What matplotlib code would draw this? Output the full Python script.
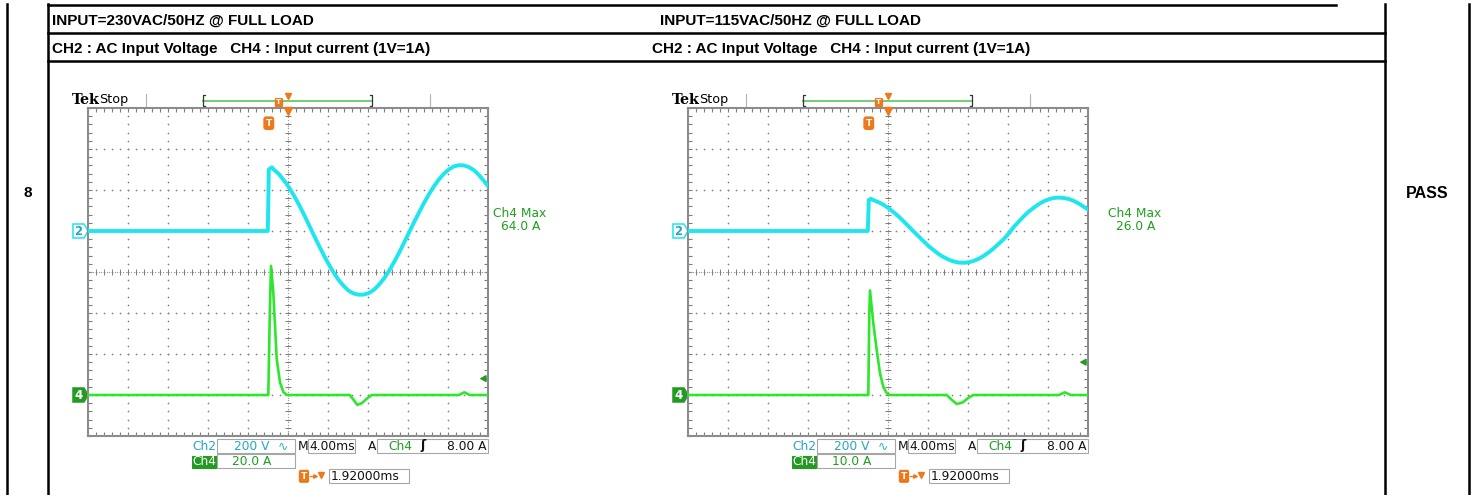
import numpy as np
import matplotlib.pyplot as plt
from matplotlib.patches import Rectangle, Polygon

W, H = 1474, 495

# %%
# Values read off the two scope captures
# time in ms relative to the trigger point, CH2 in volts, CH4 in amps
t_v230 = [-18.1, -0.1, 0.0, 0.3, 0.5, 1.0, 1.5, 2.0, 2.5, 3.0, 3.5, 4.0, 4.5, 5.0,
          5.5, 6.0, 6.5, 7.0, 7.5, 8.0, 8.5, 9.0, 9.5, 10.0, 10.5, 11.0, 11.5,
          12.0, 12.5, 13.0, 13.5, 14.0, 14.5, 15.0, 15.5, 16.0, 16.5, 17.0, 17.5,
          18.0, 18.5, 19.0, 19.5, 20.0, 20.5, 21.0, 21.5, 21.9]
v_230 = [0, 0, 300, 311, 300, 278, 248, 214, 174, 130, 82, 31, -20, -70,
         -118, -163, -204, -240, -269, -292, -305, -311, -310, -303, -287, -263, -233,
         -196, -154, -109, -60, -10, 40, 88, 135, 178, 217, 251, 279,
         300, 315, 321, 320, 312, 297, 274, 245, 220]

t_v115 = [-18.1, -0.1, 0.0, 0.2, 0.5, 1.0, 1.5, 2.0, 2.5, 3.0, 3.5, 4.0, 4.5, 5.0,
          5.5, 6.0, 6.5, 7.0, 7.5, 8.0, 8.5, 9.0, 9.5, 10.0, 10.5, 11.0, 11.5,
          12.0, 12.5, 13.0, 13.5, 14.0, 14.5, 15.0, 15.5, 16.0, 16.5, 17.0, 17.5,
          18.0, 18.5, 19.0, 19.5, 20.0, 20.5, 21.0, 21.5, 21.9]
v_115 = [0, 0, 152, 157, 150, 140, 127, 110, 91, 70, 46, 22, -3, -27,
         -51, -74, -94, -113, -128, -140, -149, -154, -155, -152, -146, -135, -121,
         -104, -84, -62, -39, -12, 20, 46, 72, 95, 114, 131, 145,
         155, 161, 163, 161, 156, 147, 134, 118, 105]

t_i230 = [-18.1, -0.05, 0.1, 0.22, 0.45, 0.62, 0.79, 1.12, 1.45, 1.8,
          8.1, 8.5, 8.85, 9.3, 9.8, 10.3, 19.0, 19.55, 20.1, 21.9]
i_230 = [0, 0, 40, 63, 50, 34, 17.6, 6.2, 1.5, 0,
         0, -2.5, -4.8, -4.0, -1.8, 0, 0, 1.3, 0, 0]

t_i115 = [-18.1, -0.05, 0.05, 0.12, 0.45, 0.79, 1.12, 1.45, 1.8, 2.1,
          7.8, 8.3, 8.8, 9.4, 9.9, 10.45, 19.0, 19.6, 20.2, 21.9]
i_115 = [0, 0, 20, 25.5, 17.5, 11, 5.3, 2, 0.4, 0,
         0, -1.2, -2.2, -1.8, -0.8, 0, 0, 0.65, 0, 0]

# scope settings shown in the readouts
input_titles = ['INPUT=230VAC/50HZ @ FULL LOAD', 'INPUT=115VAC/50HZ @ FULL LOAD']
channel_note = 'CH2 : AC Input Voltage   CH4 : Input current (1V=1A)'
ch2_volts_div = [200, 200]
ch4_amps_div = [20.0, 10.0]
ms_per_div = [4.0, 4.0]
trig_delay_ms = [1.92, 1.92]
trig_level_a = [8.0, 8.0]
ch4_max_a = [64.0, 26.0]
ch2_pos_div = 1.0
ch4_pos_div = -3.0
row_label = '8'
result = 'PASS'

# %%
CYAN = '#1ee6f0'
CYAN_TXT = '#27a6c4'
GREEN = '#2ee62e'
GREEN_TXT = '#1f9e1f'
GREEN_DARK = '#239b23'
ORANGE = '#f07818'
GRID = '#7d7d7d'

head_font = ['Liberation Sans Narrow', 'Liberation Sans', 'DejaVu Sans']

fig = plt.figure(figsize=(W / 100, H / 100), dpi=100)
bg = fig.add_axes([0, 0, 1, 1])
bg.set_xlim(0, W)
bg.set_ylim(H, 0)
bg.axis('off')

# table frame
lw_t = 1.8
bg.plot([7, 7], [4, H], color='black', lw=lw_t)
bg.plot([48, 48], [4, H], color='black', lw=lw_t)
bg.plot([1385.5, 1385.5], [4, H], color='black', lw=lw_t)
bg.plot([1469, 1469], [4, H], color='black', lw=lw_t)
bg.plot([48, 1336], [5, 5], color='black', lw=lw_t)
bg.plot([48, 1385.5], [33, 33], color='black', lw=lw_t)
bg.plot([48, 1385.5], [61, 61], color='black', lw=lw_t)

# fit the header font so the first title spans the same width as the scan
renderer = fig.canvas.get_renderer()
probe = bg.text(0, 0, input_titles[0], family=head_font, fontweight='bold', fontsize=12)
head_size = 12 * 261 / probe.get_window_extent(renderer).width
probe.remove()

head_kw = dict(family=head_font, fontweight='bold', fontsize=head_size,
               va='baseline', ha='left')
bg.text(52, 25, input_titles[0], **head_kw)
bg.text(660, 25, input_titles[1], **head_kw)
bg.text(52, 53, channel_note, **head_kw)
bg.text(652, 53, channel_note, **head_kw)
bg.text(28, 193, row_label, family=head_font, fontweight='bold',
        fontsize=head_size, ha='center', va='center')
bg.text(1427.5, 193, result, family=head_font, fontweight='bold',
        fontsize=head_size * 1.05, ha='center', va='center')

ro_kw = dict(family='DejaVu Sans', fontsize=8.8, va='center')


def box(x0, x1, y0, y1, fc='white', ec='#a6a6a6'):
    bg.add_patch(Rectangle((x0, y0), x1 - x0, y1 - y0, fc=fc, ec=ec, lw=0.8, zorder=2))


traces = [(t_v230, v_230, t_i230, i_230), (t_v115, v_115, t_i115, i_115)]
max_x = [520, 1135]

for k in range(2):
    ox = 600 * k
    tv, vv, ti, ii = traces[k]
    x_of = lambda t: (np.asarray(t) - trig_delay_ms[k]) / ms_per_div[k]

    ax = fig.add_axes([(88 + ox) / W, (H - 436) / H, 400 / W, 328 / H])
    ax.set_xlim(-5, 5)
    ax.set_ylim(-4, 4)
    ax.set_facecolor('white')
    ax.set_xticks([])
    ax.set_yticks([])
    ax.set_xticks(np.arange(-5, 5.001, 0.2), minor=True)
    ax.set_yticks(np.arange(-4, 4.001, 0.2), minor=True)
    ax.tick_params(which='minor', direction='in', length=3, width=0.8, color=GRID,
                   top=True, right=True, labelbottom=False, labelleft=False)
    for s in ax.spines.values():
        s.set_color('#8c8c8c')
        s.set_linewidth(1.5)

    # graticule dots
    yy = np.arange(-4, 4.001, 0.2)
    xx = np.arange(-5, 5.001, 0.2)
    for xi in range(-4, 5):
        ax.plot(np.full(len(yy), xi), yy, ls='none', marker='o', ms=1.2, mew=0, color=GRID)
    for yi in range(-3, 4):
        ax.plot(xx, np.full(len(xx), yi), ls='none', marker='o', ms=1.2, mew=0, color=GRID)
    # center cross: fine dotted line with small ticks
    fx = np.arange(-5, 5.001, 0.067)
    fy = np.arange(-4, 4.001, 0.067)
    ax.plot(fx, np.zeros(len(fx)), ls='none', marker='o', ms=0.9, mew=0, color='#9a9a9a')
    ax.plot(np.zeros(len(fy)), fy, ls='none', marker='o', ms=0.9, mew=0, color='#9a9a9a')
    ax.plot(xx, np.zeros(len(xx)), ls='none', marker='|', ms=4, mew=0.7, color=GRID)
    ax.plot(np.zeros(len(yy)), yy, ls='none', marker='_', ms=4, mew=0.7, color=GRID)

    # waveforms
    ax.plot(x_of(tv), np.asarray(vv) / ch2_volts_div[k] + ch2_pos_div,
            color=CYAN, lw=2.8, solid_joinstyle='round', zorder=5)
    ax.plot(x_of(ti), np.asarray(ii) / ch4_amps_div[k] + ch4_pos_div,
            color=GREEN, lw=1.9, solid_joinstyle='round', zorder=6)

    # trigger level arrow for CH4
    lvl = trig_level_a[k] / ch4_amps_div[k] + ch4_pos_div
    ax.annotate('', xy=(4.72, lvl), xytext=(4.97, lvl),
                arrowprops=dict(arrowstyle='-|>,head_length=0.35,head_width=0.2',
                                color=GREEN_DARK, lw=1.1), zorder=7)
    # trigger markers
    xt = x_of(0.0)
    ax.text(xt, 3.63, 'T', color='white', fontsize=6.5, fontweight='bold',
            ha='center', va='center', zorder=8,
            bbox=dict(boxstyle='round,pad=0.18,rounding_size=0.25', fc=ORANGE, ec=ORANGE))
    ax.plot([0], [3.93], marker='v', ms=6, color=ORANGE, clip_on=False, zorder=8)

    # channel markers on the left
    for pos, label, fc, ec, tc in [(ch2_pos_div, '2', 'white', CYAN, CYAN_TXT),
                                   (ch4_pos_div, '4', GREEN_DARK, GREEN_DARK, 'white')]:
        yp = 272 - pos * 41
        bg.add_patch(Polygon([(73 + ox, yp - 7), (84 + ox, yp - 7), (88 + ox, yp),
                              (84 + ox, yp + 7), (73 + ox, yp + 7)],
                             closed=True, fc=fc, ec=ec, lw=1.1, zorder=3))
        bg.text(78.5 + ox, yp + 0.5, label, color=tc, fontsize=8.5, fontweight='bold',
                ha='center', va='center', zorder=4)

    # header: Tek Stop and record bar
    bg.text(72 + ox, 100.5, 'Tek', family='DejaVu Serif', fontweight='bold',
            fontsize=10.3, va='center')
    bg.text(99 + ox, 100, 'Stop', family='DejaVu Sans', fontsize=9.2, va='center')
    for xs in (145.7, 430):
        bg.plot([xs + ox, xs + ox], [94, 107], color='#b4b4b4', lw=0.8)
    bg.plot([203 + ox, 372 + ox], [100.7, 100.7], color='#66cc66', lw=1.3)
    bg.plot([205 + ox, 203 + ox, 203 + ox, 205 + ox], [95, 95, 106, 106], color='#333333', lw=0.9)
    bg.plot([370 + ox, 372 + ox, 372 + ox, 370 + ox], [95, 95, 106, 106], color='#333333', lw=0.9)
    bg.text(279 + ox, 102.5, 'T', color='white', fontsize=5.3, fontweight='bold',
            ha='center', va='center',
            bbox=dict(boxstyle='round,pad=0.12', fc=ORANGE, ec=ORANGE))
    bg.plot([288 + ox], [96.3], marker='v', ms=4.5, color=ORANGE)

    # CH4 max measurement
    bg.text(max_x[k], 213.5, 'Ch4 Max', color=GREEN_TXT, ha='center', **ro_kw)
    bg.text(max_x[k] + 1, 227, f'{ch4_max_a[k]:.1f} A', color=GREEN_TXT, ha='center', **ro_kw)

    # readouts row 1
    r1 = 446
    bg.text(192.7 + ox, r1, 'Ch2', color=CYAN_TXT, ha='left', **ro_kw)
    box(217.3 + ox, 295.3 + ox, 439, 452.7)
    bg.text(234 + ox, r1, f'{ch2_volts_div[k]} V', color=CYAN_TXT, ha='left', zorder=3, **ro_kw)
    bg.text(282.5 + ox, r1, '\u223f', color=CYAN_TXT, ha='center', zorder=3, **ro_kw)
    bg.text(297.3 + ox, r1, 'M', color='#111111', ha='left', **ro_kw)
    box(307.7 + ox, 355 + ox, 439, 452.7)
    bg.text(309.5 + ox, r1, f'{ms_per_div[k]:.2f}ms', color='#111111', ha='left', zorder=3, **ro_kw)
    bg.text(368.3 + ox, r1, 'A', color='#111111', ha='left', **ro_kw)
    box(377.3 + ox, 488.3 + ox, 439, 452.7)
    bg.text(388 + ox, r1, 'Ch4', color=GREEN_TXT, ha='left', zorder=3, **ro_kw)
    bg.text(423.5 + ox, r1, '\u0283', color='#111111', ha='center', zorder=3,
            family='DejaVu Sans', fontsize=9, fontweight='bold', va='center')
    bg.text(486.7 + ox, r1, f'{trig_level_a[k]:.2f} A', color='#111111', ha='right', zorder=3, **ro_kw)

    # row 2
    r2 = 461.5
    box(192.3 + ox, 215.7 + ox, 455.5, 467.5, fc=GREEN_DARK, ec=GREEN_DARK)
    bg.text(204 + ox, r2, 'Ch4', color='white', ha='center', zorder=3, **ro_kw)
    box(217.3 + ox, 295.3 + ox, 454, 468.3)
    bg.text(232 + ox, r2, f'{ch4_amps_div[k]:.1f} A', color=GREEN_TXT, ha='left', zorder=3, **ro_kw)

    # row 3
    r3 = 476.3
    bg.text(304 + ox, r3, 'T', color='white', fontsize=6.5, fontweight='bold',
            ha='center', va='center', zorder=3,
            bbox=dict(boxstyle='round,pad=0.15', fc=ORANGE, ec=ORANGE))
    bg.plot([310.5 + ox, 316 + ox], [r3, r3], color=ORANGE, lw=0.9)
    bg.plot([315.5 + ox], [r3], marker='>', ms=2.5, color=ORANGE)
    bg.plot([321.5 + ox], [r3 - 1.5], marker='v', ms=5, color=ORANGE)
    box(329.3 + ox, 409.3 + ox, 469.3, 483.3)
    bg.text(331 + ox, r3, f'{trig_delay_ms[k]:.5f}ms', color='#111111', ha='left', zorder=3, **ro_kw)

fig.savefig('out.png', dpi=100)
